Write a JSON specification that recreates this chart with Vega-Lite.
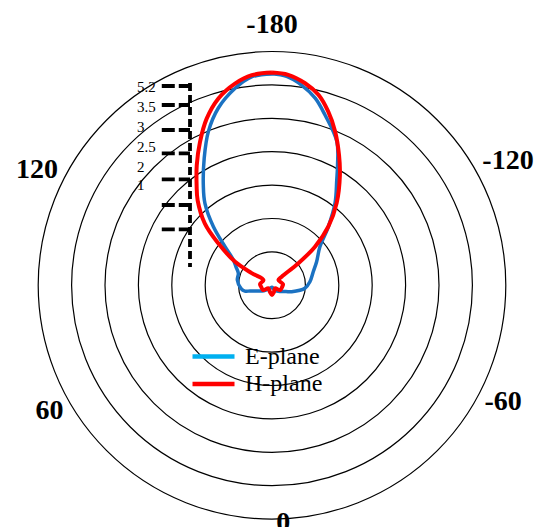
{
  "$schema": "https://vega.github.io/schema/vega-lite/v6.json",
  "width": 524.38,
  "height": 480.96,
  "autosize": {"type": "none"},
  "padding": {"left": 9.81, "top": 44.82, "right": 0.81, "bottom": 1.22},
  "background": "white",
  "config": {"view": {"stroke": null}},
  "datasets": {
    "rings": [{"ring": 1}, {"ring": 2}, {"ring": 3}, {"ring": 4}, {"ring": 5}, {"ring": 6}, {"ring": 7}],
    "pattern": [
      {"plane": "E-plane", "i": 0, "a": 180, "r": 6.33},
      {"plane": "E-plane", "i": 1, "a": 174.4, "r": 6.27},
      {"plane": "E-plane", "i": 2, "a": 169.4, "r": 6.0},
      {"plane": "E-plane", "i": 3, "a": 163.1, "r": 5.54},
      {"plane": "E-plane", "i": 4, "a": 157.5, "r": 4.98},
      {"plane": "E-plane", "i": 5, "a": 151.9, "r": 4.31},
      {"plane": "E-plane", "i": 6, "a": 145.6, "r": 3.64},
      {"plane": "E-plane", "i": 7, "a": 140.7, "r": 3.17},
      {"plane": "E-plane", "i": 8, "a": 135.0, "r": 2.48},
      {"plane": "E-plane", "i": 9, "a": 129.4, "r": 1.82},
      {"plane": "E-plane", "i": 10, "a": 123.2, "r": 1.38},
      {"plane": "E-plane", "i": 11, "a": 117.0, "r": 1.21},
      {"plane": "E-plane", "i": 12, "a": 109.6, "r": 1.07},
      {"plane": "E-plane", "i": 13, "a": 98.7, "r": 1.05},
      {"plane": "E-plane", "i": 14, "a": 84.0, "r": 0.93},
      {"plane": "E-plane", "i": 15, "a": 78.0, "r": 0.83},
      {"plane": "E-plane", "i": 16, "a": 75.5, "r": 0.68},
      {"plane": "E-plane", "i": 17, "a": 70.4, "r": 0.51},
      {"plane": "E-plane", "i": 18, "a": 60.0, "r": 0.34},
      {"plane": "E-plane", "i": 19, "a": 52.0, "r": 0.23},
      {"plane": "E-plane", "i": 20, "a": 30.0, "r": 0.10},
      {"plane": "E-plane", "i": 21, "a": 0.0, "r": 0.06},
      {"plane": "E-plane", "i": 22, "a": -32.0, "r": 0.17},
      {"plane": "E-plane", "i": 23, "a": -52.0, "r": 0.30},
      {"plane": "E-plane", "i": 24, "a": -66.0, "r": 0.46},
      {"plane": "E-plane", "i": 25, "a": -72.0, "r": 0.62},
      {"plane": "E-plane", "i": 26, "a": -84.8, "r": 0.99},
      {"plane": "E-plane", "i": 27, "a": -95.4, "r": 1.14},
      {"plane": "E-plane", "i": 28, "a": -108.2, "r": 1.30},
      {"plane": "E-plane", "i": 29, "a": -117.8, "r": 1.51},
      {"plane": "E-plane", "i": 30, "a": -128.8, "r": 1.84},
      {"plane": "E-plane", "i": 31, "a": -136.1, "r": 2.43},
      {"plane": "E-plane", "i": 32, "a": -142.5, "r": 3.10},
      {"plane": "E-plane", "i": 33, "a": -148.4, "r": 3.70},
      {"plane": "E-plane", "i": 34, "a": -151.4, "r": 4.10},
      {"plane": "E-plane", "i": 35, "a": -155.7, "r": 4.72},
      {"plane": "E-plane", "i": 36, "a": -162.7, "r": 5.34},
      {"plane": "E-plane", "i": 37, "a": -167.0, "r": 5.75},
      {"plane": "E-plane", "i": 38, "a": -171.6, "r": 6.06},
      {"plane": "E-plane", "i": 39, "a": -176.0, "r": 6.27},
      {"plane": "E-plane", "i": 40, "a": -180.0, "r": 6.33},
      {"plane": "H-plane", "i": 0, "a": 180, "r": 6.37},
      {"plane": "H-plane", "i": 1, "a": 174.5, "r": 6.32},
      {"plane": "H-plane", "i": 2, "a": 169.6, "r": 6.14},
      {"plane": "H-plane", "i": 3, "a": 164.0, "r": 5.82},
      {"plane": "H-plane", "i": 4, "a": 158.6, "r": 5.36},
      {"plane": "H-plane", "i": 5, "a": 153.3, "r": 4.80},
      {"plane": "H-plane", "i": 6, "a": 147.9, "r": 4.24},
      {"plane": "H-plane", "i": 7, "a": 143.0, "r": 3.75},
      {"plane": "H-plane", "i": 8, "a": 138.8, "r": 3.38},
      {"plane": "H-plane", "i": 9, "a": 132.6, "r": 2.73},
      {"plane": "H-plane", "i": 10, "a": 128.0, "r": 2.04},
      {"plane": "H-plane", "i": 11, "a": 122.5, "r": 1.31},
      {"plane": "H-plane", "i": 12, "a": 121.0, "r": 0.71},
      {"plane": "H-plane", "i": 13, "a": 121.4, "r": 0.30},
      {"plane": "H-plane", "i": 14, "a": 96.0, "r": 0.36},
      {"plane": "H-plane", "i": 15, "a": 82.7, "r": 0.33},
      {"plane": "H-plane", "i": 16, "a": 61.6, "r": 0.30},
      {"plane": "H-plane", "i": 17, "a": 51.0, "r": 0.14},
      {"plane": "H-plane", "i": 18, "a": 16.6, "r": 0.21},
      {"plane": "H-plane", "i": 19, "a": 0.0, "r": 0.29},
      {"plane": "H-plane", "i": 20, "a": -16.0, "r": 0.21},
      {"plane": "H-plane", "i": 21, "a": -45.0, "r": 0.13},
      {"plane": "H-plane", "i": 22, "a": -59.6, "r": 0.28},
      {"plane": "H-plane", "i": 23, "a": -82.3, "r": 0.31},
      {"plane": "H-plane", "i": 24, "a": -96.0, "r": 0.33},
      {"plane": "H-plane", "i": 25, "a": -130.0, "r": 0.25},
      {"plane": "H-plane", "i": 26, "a": -131.6, "r": 0.39},
      {"plane": "H-plane", "i": 27, "a": -129.9, "r": 1.03},
      {"plane": "H-plane", "i": 28, "a": -131.9, "r": 1.73},
      {"plane": "H-plane", "i": 29, "a": -136.2, "r": 2.44},
      {"plane": "H-plane", "i": 30, "a": -141.8, "r": 3.13},
      {"plane": "H-plane", "i": 31, "a": -148.4, "r": 3.88},
      {"plane": "H-plane", "i": 32, "a": -152.8, "r": 4.39},
      {"plane": "H-plane", "i": 33, "a": -157.7, "r": 4.98},
      {"plane": "H-plane", "i": 34, "a": -162.1, "r": 5.47},
      {"plane": "H-plane", "i": 35, "a": -166.3, "r": 5.87},
      {"plane": "H-plane", "i": 36, "a": -170.7, "r": 6.13},
      {"plane": "H-plane", "i": 37, "a": -175.6, "r": 6.32},
      {"plane": "H-plane", "i": 38, "a": -180.0, "r": 6.37}
    ],
    "angles": [
      {"text": "-180", "a": 180, "r": 7.79},
      {"text": "120", "a": 116.2, "r": 7.84},
      {"text": "-120", "a": -117.7, "r": 7.98},
      {"text": "60", "a": 60.5, "r": 7.65},
      {"text": "-60", "a": -63.2, "r": 7.75},
      {"text": "0", "a": -2.7, "r": 7.13}
    ],
    "vaxis": [{"x": -2.455, "top": 6.06, "bottom": 0.55}],
    "ticks": [{"v": 5.967}, {"v": 5.398}, {"v": 4.65}, {"v": 3.952}, {"v": 3.174}, {"v": 2.404}, {"v": 1.677}],
    "scalelabels": [
      {"label": "5.2", "v": 5.946},
      {"label": "3.5", "v": 5.347},
      {"label": "3", "v": 4.749},
      {"label": "2.5", "v": 4.132},
      {"label": "2", "v": 3.551},
      {"label": "1", "v": 3.003}
    ],
    "legendE": [{"plane": "E-plane"}],
    "legendH": [{"plane": "H-plane"}]
  },
  "layer": [
    {
      "data": {"name": "rings"},
      "mark": {"type": "arc", "filled": false, "stroke": "#000000", "strokeWidth": 1.2, "theta": 0, "theta2": 6.2832},
      "encoding": {
        "radius": {"field": "ring", "type": "quantitative", "stack": null, "scale": {"type": "linear", "domain": [0, 7], "range": [0, 233.8], "zero": true}}
      }
    },
    {
      "data": {"name": "vaxis"},
      "mark": {"type": "rule", "stroke": "#000000", "strokeWidth": 3.8, "strokeDash": [8, 4]},
      "encoding": {
        "x": {"field": "x", "type": "quantitative", "scale": {"domain": [-7.85, 7.85], "nice": false, "zero": false}, "axis": null},
        "y": {"field": "top", "type": "quantitative", "scale": {"domain": [-7.2, 7.2], "nice": false, "zero": false}, "axis": null},
        "y2": {"field": "bottom"}
      }
    },
    {
      "data": {"name": "ticks"},
      "mark": {"type": "rule", "stroke": "#000000", "strokeWidth": 3.8, "strokeDash": [13, 4]},
      "encoding": {
        "x": {"datum": -3.3, "type": "quantitative"},
        "x2": {"datum": -2.455},
        "y": {"field": "v", "type": "quantitative"}
      }
    },
    {
      "data": {"name": "scalelabels"},
      "mark": {"type": "text", "font": "Liberation Serif", "fontSize": 15, "align": "left", "baseline": "middle", "color": "#000000"},
      "encoding": {
        "x": {"datum": -4.04, "type": "quantitative"},
        "y": {"field": "v", "type": "quantitative"},
        "text": {"field": "label"}
      }
    },
    {
      "data": {"name": "pattern"},
      "transform": [
        {"filter": "datum.plane == 'E-plane'"},
        {"calculate": "-datum.r*sin(datum.a*PI/180)", "as": "px"},
        {"calculate": "-datum.r*cos(datum.a*PI/180)", "as": "py"}
      ],
      "mark": {"type": "line", "stroke": "#1B72C2", "strokeWidth": 3.5, "strokeJoin": "round", "interpolate": "catmull-rom"},
      "encoding": {
        "x": {"field": "px", "type": "quantitative"},
        "y": {"field": "py", "type": "quantitative"},
        "order": {"field": "i", "type": "quantitative"}
      }
    },
    {
      "data": {"name": "pattern"},
      "transform": [
        {"filter": "datum.plane == 'H-plane'"},
        {"calculate": "-datum.r*sin(datum.a*PI/180)", "as": "px"},
        {"calculate": "-datum.r*cos(datum.a*PI/180)", "as": "py"}
      ],
      "mark": {"type": "line", "stroke": "#FF0000", "strokeWidth": 4, "strokeJoin": "round", "interpolate": "catmull-rom"},
      "encoding": {
        "x": {"field": "px", "type": "quantitative"},
        "y": {"field": "py", "type": "quantitative"},
        "order": {"field": "i", "type": "quantitative"}
      }
    },
    {
      "data": {"name": "legendE"},
      "mark": {"type": "point", "opacity": 0, "strokeWidth": 4.5},
      "encoding": {
        "x": {"datum": 0, "type": "quantitative"},
        "y": {"datum": 0, "type": "quantitative"},
        "color": {
          "field": "plane", "type": "nominal",
          "scale": {"domain": ["E-plane"], "range": ["#00B0F0"]},
          "legend": {
            "orient": "none", "legendX": 180.2, "legendY": 288.2, "title": null,
            "symbolType": "stroke", "symbolSize": 1764, "symbolStrokeWidth": 4.5, "symbolOpacity": 1,
            "labelFont": "Liberation Serif", "labelFontSize": 24, "labelColor": "#000000", "labelOffset": 8, "padding": 0
          }
        }
      }
    },
    {
      "data": {"name": "legendH"},
      "mark": {"type": "point", "opacity": 0, "strokeWidth": 4.5},
      "encoding": {
        "x": {"datum": 0, "type": "quantitative"},
        "y": {"datum": 0, "type": "quantitative"},
        "stroke": {
          "field": "plane", "type": "nominal",
          "scale": {"domain": ["H-plane"], "range": ["#FF0000"]},
          "legend": {
            "orient": "none", "legendX": 180.2, "legendY": 315.6, "title": null,
            "symbolType": "stroke", "symbolSize": 1764, "symbolStrokeWidth": 4.5, "symbolOpacity": 1,
            "labelFont": "Liberation Serif", "labelFontSize": 24, "labelColor": "#000000", "labelOffset": 8, "padding": 0
          }
        }
      }
    },
    {
      "data": {"name": "angles"},
      "transform": [
        {"calculate": "-datum.r*sin(datum.a*PI/180)", "as": "px"},
        {"calculate": "-datum.r*cos(datum.a*PI/180)", "as": "py"}
      ],
      "mark": {"type": "text", "font": "Liberation Serif", "fontSize": 28, "fontWeight": "bold", "align": "center", "baseline": "middle", "color": "#000000"},
      "encoding": {
        "x": {"field": "px", "type": "quantitative"},
        "y": {"field": "py", "type": "quantitative"},
        "text": {"field": "text"}
      }
    }
  ]
}
